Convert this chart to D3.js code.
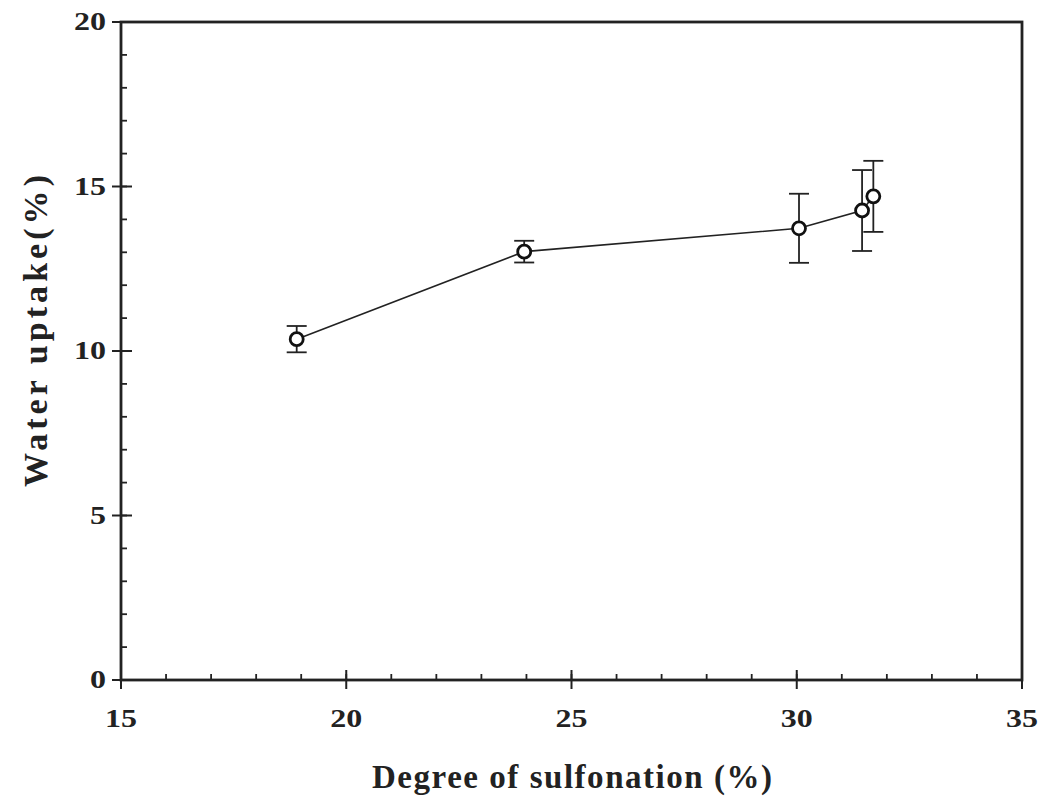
<!DOCTYPE html>
<html>
<head>
<meta charset="utf-8">
<script src="https://cdn.jsdelivr.net/npm/d3@7"></script>
<style>
  html, body { margin: 0; padding: 0; background: #fff; }
  svg { display: block; }
  text { font-family: "Liberation Serif", "Times New Roman", serif; font-weight: bold; fill: #222; }
</style>
</head>
<body>
<svg id="chart" width="1040" height="798"></svg>
<script>
// Degree of sulfonation (%) vs water uptake (%) with standard deviations
const sulfonation = [18.9, 23.95, 30.05, 31.45, 31.7];
const waterUptake = [10.36, 13.02, 13.73, 14.27, 14.70];
const uptakeError = [0.40, 0.33, 1.05, 1.23, 1.08];

const xTicks = [15, 20, 25, 30, 35];
const yTicks = [0, 5, 10, 15, 20];
const xMinor = d3.range(15, 35.01, 1);
const yMinor = d3.range(0, 20.01, 1);

const svg = d3.select("#chart");
const plotLeft = 121, plotRight = 1022, plotTop = 22, plotBottom = 680;

const x = d3.scaleLinear().domain([15, 35]).range([plotLeft, plotRight]);
const y = d3.scaleLinear().domain([0, 20]).range([plotBottom, plotTop]);

const ink = "#222";

// frame
svg.append("rect")
  .attr("x", plotLeft).attr("y", plotTop)
  .attr("width", plotRight - plotLeft).attr("height", plotBottom - plotTop)
  .attr("fill", "none").attr("stroke", ink).attr("stroke-width", 2.8);

// minor ticks (inward)
svg.append("g").selectAll("line").data(xMinor).join("line")
  .attr("x1", d => x(d)).attr("x2", d => x(d))
  .attr("y1", plotBottom).attr("y2", plotBottom - 6)
  .attr("stroke", ink).attr("stroke-width", 1.8);
svg.append("g").selectAll("line").data(yMinor).join("line")
  .attr("x1", plotLeft).attr("x2", plotLeft + 6)
  .attr("y1", d => y(d)).attr("y2", d => y(d))
  .attr("stroke", ink).attr("stroke-width", 1.8);

// major ticks (crossing the axis)
svg.append("g").selectAll("line").data(xTicks).join("line")
  .attr("x1", d => x(d)).attr("x2", d => x(d))
  .attr("y1", plotBottom - 10).attr("y2", plotBottom + 9)
  .attr("stroke", ink).attr("stroke-width", 2);
svg.append("g").selectAll("line").data(yTicks).join("line")
  .attr("x1", plotLeft - 9).attr("x2", plotLeft + 11)
  .attr("y1", d => y(d)).attr("y2", d => y(d))
  .attr("stroke", ink).attr("stroke-width", 2);

// tick labels (slightly wide digits)
svg.append("g").selectAll("text").data(xTicks).join("text")
  .attr("transform", d => `translate(${x(d)}, ${plotBottom + 47}) scale(1.28, 1)`)
  .attr("text-anchor", "middle").attr("font-size", 25)
  .text(d => d);
svg.append("g").selectAll("text").data(yTicks).join("text")
  .attr("transform", d => `translate(${plotLeft - 15}, ${y(d) + 8}) scale(1.28, 1)`)
  .attr("text-anchor", "end").attr("font-size", 25)
  .text(d => d);

// axis titles
svg.append("text")
  .attr("x", 572).attr("y", 788)
  .attr("text-anchor", "middle").attr("font-size", 33)
  .attr("textLength", 400).attr("lengthAdjust", "spacing")
  .text("Degree of sulfonation (%)");
svg.append("text")
  .attr("transform", `translate(47, 331) rotate(-90)`)
  .attr("text-anchor", "middle").attr("font-size", 34)
  .attr("textLength", 312).attr("lengthAdjust", "spacing")
  .text("Water uptake(%)");

// connecting line
const pts = sulfonation.map((s, i) => ({ s, w: waterUptake[i], e: uptakeError[i] }));
svg.append("path")
  .datum(pts)
  .attr("fill", "none").attr("stroke", ink).attr("stroke-width", 1.6)
  .attr("d", d3.line().x(d => x(d.s)).y(d => y(d.w)));

// error bars
const eb = svg.append("g").attr("stroke", ink).attr("stroke-width", 1.8);
const cap = 10;
eb.selectAll("line.v").data(pts).join("line").attr("class", "v")
  .attr("x1", d => x(d.s)).attr("x2", d => x(d.s))
  .attr("y1", d => y(d.w + d.e)).attr("y2", d => y(d.w - d.e));
eb.selectAll("line.t").data(pts).join("line").attr("class", "t")
  .attr("x1", d => x(d.s) - cap).attr("x2", d => x(d.s) + cap)
  .attr("y1", d => y(d.w + d.e)).attr("y2", d => y(d.w + d.e));
eb.selectAll("line.b").data(pts).join("line").attr("class", "b")
  .attr("x1", d => x(d.s) - cap).attr("x2", d => x(d.s) + cap)
  .attr("y1", d => y(d.w - d.e)).attr("y2", d => y(d.w - d.e));

// markers
svg.append("g").selectAll("circle").data(pts).join("circle")
  .attr("cx", d => x(d.s)).attr("cy", d => y(d.w)).attr("r", 6.5)
  .attr("fill", "#fff").attr("stroke", "#111").attr("stroke-width", 2.8);
</script>
</body>
</html>
